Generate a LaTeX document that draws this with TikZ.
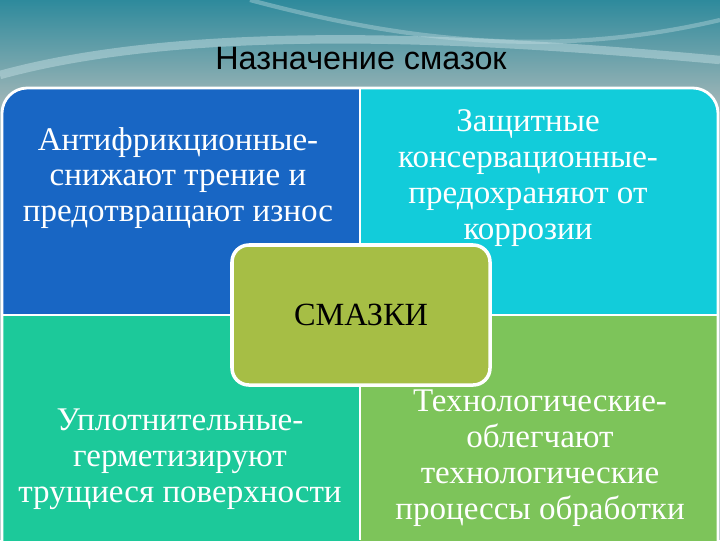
\documentclass[tikz,border=0pt]{standalone}
\usepackage{fontspec}
\setmainfont{Liberation Serif}
\newfontfamily\titlefont{Liberation Sans}
\definecolor{qblue}{HTML}{1866C4}
\definecolor{qcyan}{HTML}{12CCDA}
\definecolor{qteal}{HTML}{1CC99A}
\definecolor{qgreen}{HTML}{7DC45A}
\definecolor{qolive}{HTML}{A6BE45}
\definecolor{bgtop}{HTML}{2E8A9C}
\definecolor{bgbot}{HTML}{9BB4B6}
\begin{document}
\begin{tikzpicture}[x=0.025cm,y=-0.025cm,
  qtext/.style={align=center,text=white,font=\fontsize{23.5}{25.5}\selectfont},
  quad/.style={draw=white,line width=1.5pt}]
\useasboundingbox (0,0) rectangle (720,540);
\shade[top color=bgtop,bottom color=bgbot] (0,0) rectangle (720,100);
\fill[bgbot] (0,100) rectangle (720,540);
\draw[white!70!bgtop,line width=6pt,opacity=0.5] (0,75) .. controls (200,20) and (500,40) .. (720,60);
\draw[white!70!bgtop,line width=3pt,opacity=0.4] (250,0) .. controls (400,40) and (550,60) .. (720,20);
\node[font=\titlefont\fontsize{23}{26}\selectfont] (title) at (361,59) {Назначение смазок};
\begin{scope}
\clip[rounded corners=18pt] (2,88) rectangle (718,600);
\fill[qblue] (2,88) rectangle (360,315);
\fill[qcyan] (360,88) rectangle (718,315);
\fill[qteal] (2,315) rectangle (360,600);
\fill[qgreen] (360,315) rectangle (718,600);
\end{scope}
\draw[white,line width=2pt,rounded corners=18pt] (2,600) -- (2,88) -- (718,88) -- (718,600);
\draw[white,line width=2pt] (360,88) -- (360,540) (2,315) -- (718,315);
\node[draw=white,line width=2.5pt,fill=qolive,rounded corners=12pt,minimum width=258*0.025cm,minimum height=140*0.025cm,font=\fontsize{23}{26}\selectfont] (c) at (361,315) {СМАЗКИ};
\node[qtext] (a) at (178,178) {Антифрикционные-\\снижают трение и\\предотвращают износ};
\node[qtext] (b) at (528,178) {Защитные\\консервационные-\\предохраняют от\\коррозии};
\node[qtext] (d) at (180,459) {Уплотнительные-\\герметизируют\\трущиеся поверхности};
\node[qtext] (e) at (540,458) {Технологические-\\облегчают\\технологические\\процессы обработки};
\end{tikzpicture}
\end{document}
